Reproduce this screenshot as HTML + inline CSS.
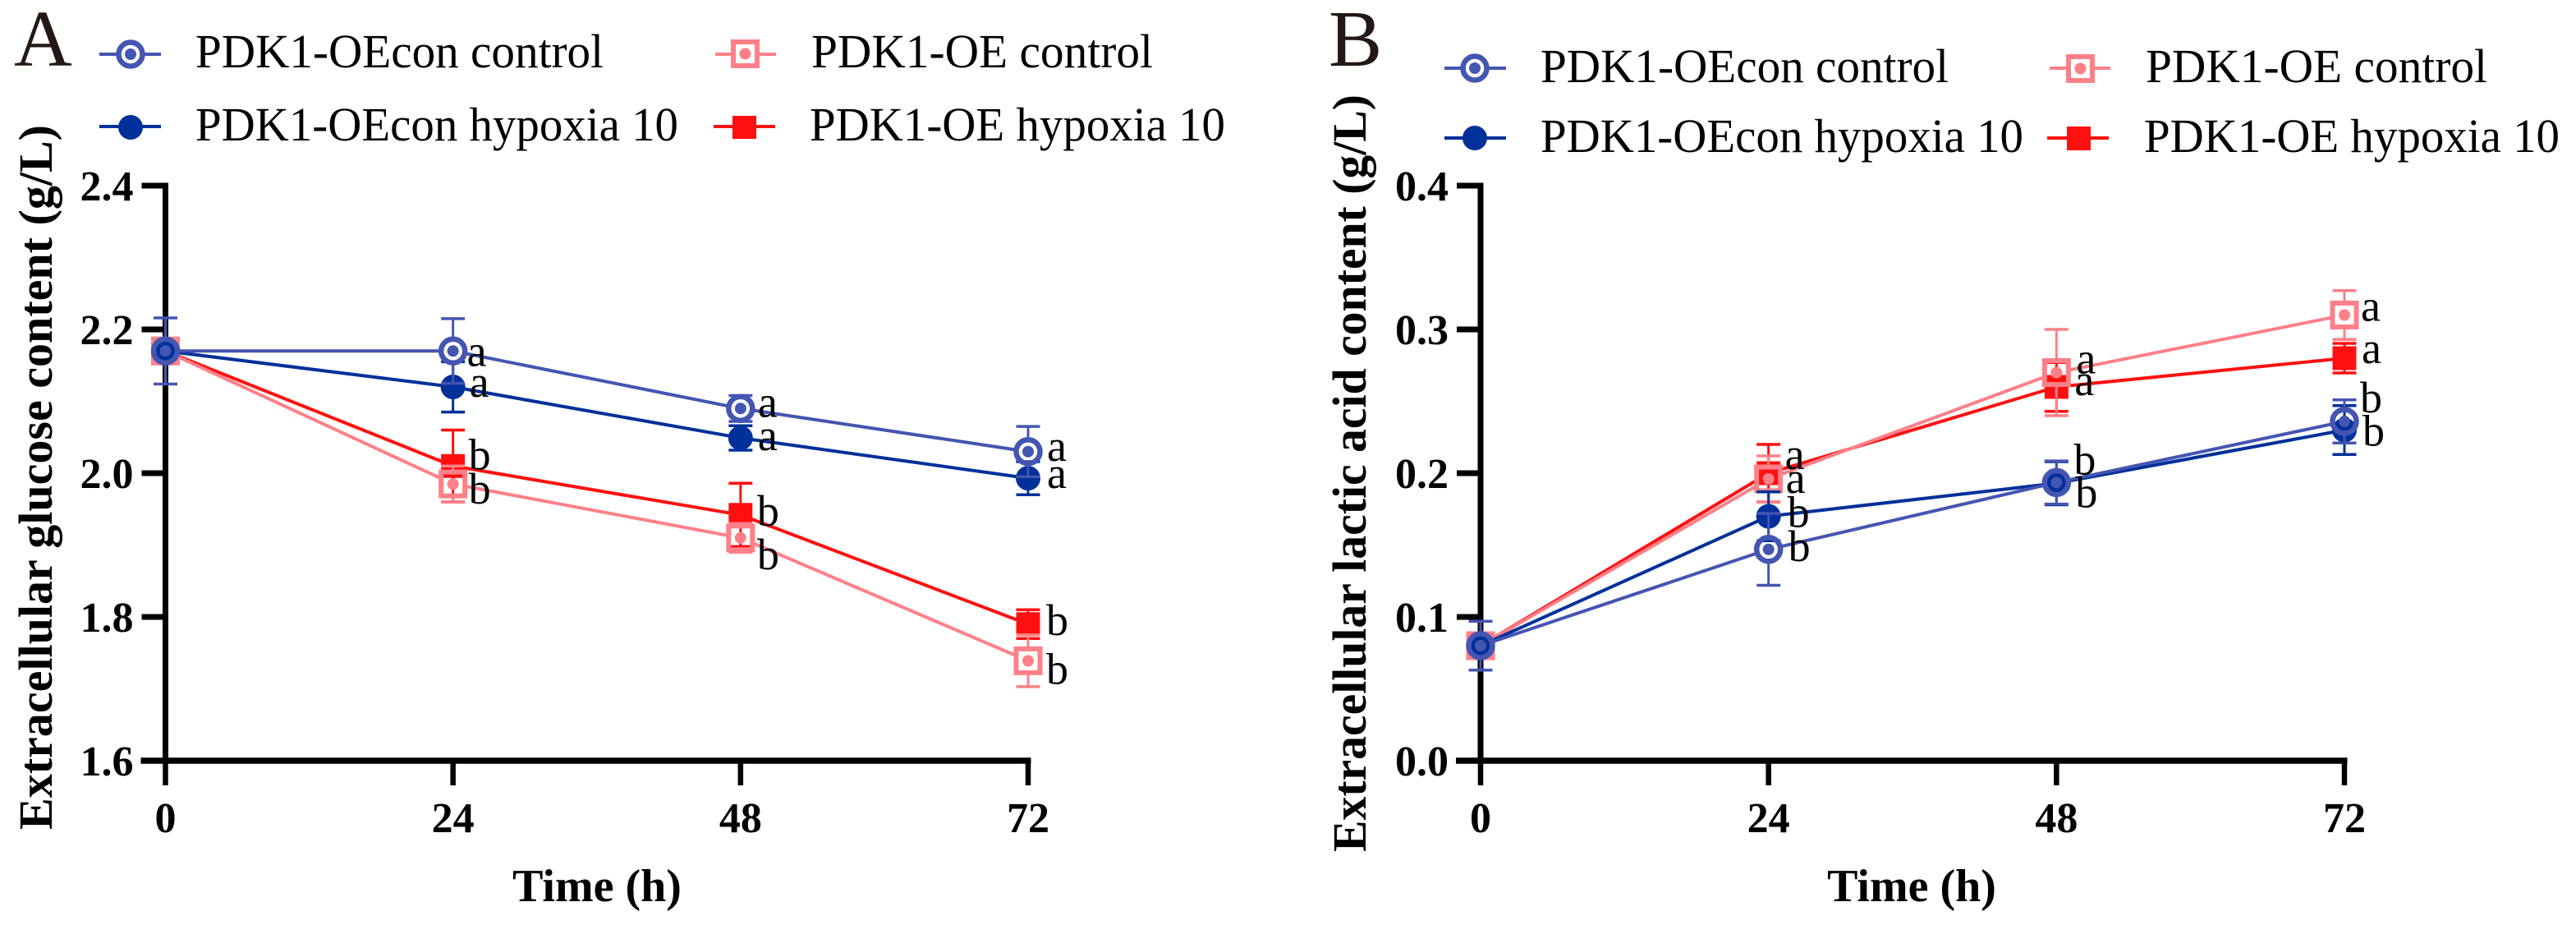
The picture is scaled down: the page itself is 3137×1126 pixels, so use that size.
<!DOCTYPE html>
<html lang="en">
<head>
<meta charset="utf-8">
<title>Extracellular glucose and lactic acid content</title>
<style>
html,body{margin:0;padding:0;background:#fff;}
body{width:3137px;height:1126px;overflow:hidden;}
svg{display:block;font-family:"Liberation Serif",serif;}
</style>
</head>
<body>
<svg id="figure" xmlns="http://www.w3.org/2000/svg" width="3137" height="1126" viewBox="0 0 3137 1126">
  <rect x="0" y="0" width="3137" height="1126" fill="#ffffff"/>

  <text x="17" y="80" font-size="98" fill="#231815">A</text>
  <text x="1618" y="80" font-size="98" fill="#231815">B</text>

  <g font-size="58" fill="#000">
    <g>
      <line x1="121" x2="196" y1="66" y2="66" stroke="#4455b2" stroke-width="4"/>
      <circle cx="159" cy="66" r="14.5" fill="#fff" stroke="#4455b2" stroke-width="6.5"/>
      <circle cx="159" cy="66" r="7" fill="#4455b2"/>
      <text x="238" y="82" textLength="497" lengthAdjust="spacingAndGlyphs">PDK1-OEcon control</text>
    </g>
    <g>
      <line x1="121" x2="196" y1="154" y2="154" stroke="#00309a" stroke-width="4"/>
      <circle cx="159" cy="155" r="15" fill="#00309a"/>
      <text x="238" y="171" textLength="588" lengthAdjust="spacingAndGlyphs">PDK1-OEcon hypoxia 10</text>
    </g>
    <g>
      <line x1="871" x2="945" y1="66" y2="66" stroke="#ff8088" stroke-width="4"/>
      <rect x="893" y="51" width="29" height="29" fill="#fff" stroke="#ff8088" stroke-width="6"/>
      <circle cx="907.5" cy="65.5" r="7" fill="#ff8088"/>
      <text x="988" y="82" textLength="416" lengthAdjust="spacingAndGlyphs">PDK1-OE control</text>
    </g>
    <g>
      <line x1="869" x2="944" y1="154" y2="154" stroke="#ff1010" stroke-width="4"/>
      <rect x="892" y="141" width="29" height="28" fill="#ff1010"/>
      <text x="986" y="171" textLength="506" lengthAdjust="spacingAndGlyphs">PDK1-OE hypoxia 10</text>
    </g>
  </g>

  <g font-size="58" fill="#000">
    <g>
      <line x1="1759" x2="1834" y1="83" y2="83" stroke="#4455b2" stroke-width="4"/>
      <circle cx="1796" cy="83" r="14.5" fill="#fff" stroke="#4455b2" stroke-width="6.5"/>
      <circle cx="1796" cy="83" r="7" fill="#4455b2"/>
      <text x="1876" y="100" textLength="497" lengthAdjust="spacingAndGlyphs">PDK1-OEcon control</text>
    </g>
    <g>
      <line x1="1759" x2="1834" y1="168" y2="168" stroke="#00309a" stroke-width="4"/>
      <circle cx="1796" cy="168" r="15" fill="#00309a"/>
      <text x="1876" y="185" textLength="588" lengthAdjust="spacingAndGlyphs">PDK1-OEcon hypoxia 10</text>
    </g>
    <g>
      <line x1="2496" x2="2570" y1="83" y2="83" stroke="#ff8088" stroke-width="4"/>
      <rect x="2519" y="69" width="29" height="29" fill="#fff" stroke="#ff8088" stroke-width="6"/>
      <circle cx="2533.5" cy="83.5" r="7" fill="#ff8088"/>
      <text x="2613" y="100" textLength="416" lengthAdjust="spacingAndGlyphs">PDK1-OE control</text>
    </g>
    <g>
      <line x1="2493" x2="2568" y1="168" y2="168" stroke="#ff1010" stroke-width="4"/>
      <rect x="2517" y="154" width="29" height="29" fill="#ff1010"/>
      <text x="2611" y="185" textLength="506" lengthAdjust="spacingAndGlyphs">PDK1-OE hypoxia 10</text>
    </g>
  </g>

  <text transform="translate(63,1010) rotate(-90)" font-size="58" font-weight="700" textLength="858" lengthAdjust="spacingAndGlyphs">Extracellular glucose content (g/L)</text>
  <text transform="translate(1663,1037) rotate(-90)" font-size="58" font-weight="700" textLength="922" lengthAdjust="spacingAndGlyphs">Extracellular lactic acid content (g/L)</text>
  <text x="727" y="1097" text-anchor="middle" font-size="56" font-weight="700">Time (h)</text>
  <text x="2328" y="1097" text-anchor="middle" font-size="56" font-weight="700">Time (h)</text>

  <g id="panel-a-plot"></g>
  <g id="panel-b-plot"></g>
</svg>

<script>
// ---- shared data ----
const timePoints = [0, 24, 48, 72];
const xTickLabels = ["0", "24", "48", "72"];

// ---- panel A: extracellular glucose (g/L) ----
const glucoseTicks = [1.6, 1.8, 2.0, 2.2, 2.4];
const glucoseTickLabels = ["1.6", "1.8", "2.0", "2.2", "2.4"];
const glucoseOEconControl = [2.17, 2.17, 2.09, 2.03];
const glucoseOEconControlErr = [0.046, 0.045, 0.018, 0.035];
const glucoseOEconHypoxia = [2.17, 2.12, 2.049, 1.993];
const glucoseOEconHypoxiaErr = [0.01, 0.035, 0.017, 0.023];
const glucoseOEControl = [2.17, 1.985, 1.91, 1.739];
const glucoseOEControlErr = [0.01, 0.025, 0.02, 0.036];
const glucoseOEHypoxia = [2.17, 2.01, 1.942, 1.79];
const glucoseOEHypoxiaErr = [0.01, 0.05, 0.044, 0.02];

// ---- panel B: extracellular lactic acid (g/L) ----
const lacticTicks = [0.0, 0.1, 0.2, 0.3, 0.4];
const lacticTickLabels = ["0.0", "0.1", "0.2", "0.3", "0.4"];
const lacticOEconControl = [0.08, 0.147, 0.1935, 0.236];
const lacticOEconControlErr = [0.017, 0.025, 0.015, 0.015];
const lacticOEconHypoxia = [0.08, 0.17, 0.193, 0.23];
const lacticOEconHypoxiaErr = [0.005, 0.017, 0.015, 0.017];
const lacticOEControl = [0.08, 0.196, 0.27, 0.31];
const lacticOEControlErr = [0.005, 0.016, 0.03, 0.017];
const lacticOEHypoxia = [0.08, 0.2, 0.26, 0.28];
const lacticOEHypoxiaErr = [0.005, 0.02, 0.017, 0.0103];

// ---- significance letters (time points 24, 48, 72 h) ----
const glucoseBlueLetters = ["a", "a", "a"];
const glucoseRedLetters = ["b", "b", "b"];
const lacticBlueLetters = ["b", "b", "b"];
const lacticRedLetters = ["a", "a", "a"];

// ---- drawing ----
const NS = "http://www.w3.org/2000/svg";
function make(tag, attrs, parent) {
  const el = document.createElementNS(NS, tag);
  for (const k in attrs) el.setAttribute(k, attrs[k]);
  parent.appendChild(el);
  return el;
}
const BLUE = "#4455b2", NAVY = "#00309a", RED = "#ff1010", PINK = "#ff8088";

function linearScale(d0, d1, r0, r1) {
  return function (v) { return r0 + (v - d0) * (r1 - r0) / (d1 - d0); };
}

function drawAxes(root, xScale, yScale, ticks, tickLabels) {
  const x0 = xScale(timePoints[0]);
  const y0 = yScale(ticks[0]);
  const yTop = yScale(ticks[ticks.length - 1]);
  const xEnd = xScale(timePoints[timePoints.length - 1]);

  const yAxis = make("line", { x1: x0, x2: x0, y1: yTop - 3.5, y2: y0, stroke: "#000", "stroke-width": 7 }, root);
  
  

  const xAxis = make("line", { x1: x0 - 30, x2: xEnd + 3.5, y1: y0, y2: y0, stroke: "#000", "stroke-width": 7.5 }, root);
  
  

  ticks.forEach(function (t, i) {
    const y = yScale(t);
    const mark = make("line", { x1: x0 - 29, x2: x0, y1: y, y2: y, stroke: "#000", "stroke-width": 7 }, root);
    
    
    const label = make("text", { x: x0 - 39, y: y + 18, "text-anchor": "end", "font-size": 52, "font-weight": 700, fill: "#000" }, root);
    label.textContent = tickLabels[i];
    
    
  });

  timePoints.forEach(function (t, i) {
    const x = xScale(t);
    const mark = make("line", { x1: x, x2: x, y1: y0, y2: y0 + 30, stroke: "#000", "stroke-width": 6.5 }, root);
    
    
    const label = make("text", { x: x, y: y0 + 87, "text-anchor": "middle", "font-size": 52, "font-weight": 700, fill: "#000" }, root);
    label.textContent = xTickLabels[i];
    
    
  });
}

function drawSeries(root, xScale, yScale, values, errors, color, shape, hollow, name) {
  const group = make("g", {}, root);
  
  
  const gap = hollow ? 17 : 0;

  for (let i = 0; i + 1 < values.length; i++) {
    const ax = xScale(timePoints[i]), ay = yScale(values[i]);
    const bx = xScale(timePoints[i + 1]), by = yScale(values[i + 1]);
    const len = Math.hypot(bx - ax, by - ay) || 1;
    const ux = (bx - ax) / len, uy = (by - ay) / len;
    const seg = make("line", {
      x1: ax + ux * gap, y1: ay + uy * gap, x2: bx - ux * gap, y2: by - uy * gap,
      stroke: color, "stroke-width": 4
    }, group);
    
    
  }

  values.forEach(function (v, i) {
    const x = xScale(timePoints[i]);
    const y = yScale(v);
    const yHigh = yScale(v + errors[i]);
    const yLow = yScale(v - errors[i]);

    [[yHigh, y - gap], [yLow, y + gap]].forEach(function (pair) {
      const stem = make("line", { x1: x, x2: x, y1: pair[0], y2: pair[1], stroke: color, "stroke-width": 3 }, group);
      
      
      const cap = make("line", { x1: x - 14.5, x2: x + 14.5, y1: pair[0], y2: pair[0], stroke: color, "stroke-width": 3.5 }, group);
      
      
    });

    if (shape === "circle" && hollow) {
      const ring = make("circle", { cx: x, cy: y, r: 14.5, fill: "none", stroke: color, "stroke-width": 6.5 }, group);
      
      
      const dot = make("circle", { cx: x, cy: y, r: 7, fill: color }, group);
      
      
    } else if (shape === "circle") {
      const disc = make("circle", { cx: x, cy: y, r: 15, fill: color }, group);
      
      
    } else if (hollow) {
      const box = make("rect", { x: x - 14.5, y: y - 14.5, width: 29, height: 29, fill: "none", stroke: color, "stroke-width": 6 }, group);
      
      
      const dot = make("circle", { cx: x, cy: y, r: 7, fill: color }, group);
      
      
    } else {
      const square = make("rect", { x: x - 14.5, y: y - 14.5, width: 29, height: 29, fill: color }, group);
      
      
    }
  });
}

// A significance letter sits beside its point, hand-nudged to avoid overlaps.
function drawLetter(root, xScale, yScale, values, letters, pointIndex, dx, dy) {
  const label = make("text", {
    x: xScale(timePoints[pointIndex]) + dx,
    y: yScale(values[pointIndex]) + dy,
    "font-size": 54, fill: "#000"
  }, root);
  label.textContent = letters[pointIndex - 1];
  
  
}

// ---- panel A ----
const rootA = document.getElementById("panel-a-plot");
const xA = linearScale(0, 72, 201.5, 1252);
const yA = linearScale(1.6, 2.4, 926, 226);
drawAxes(rootA, xA, yA, glucoseTicks, glucoseTickLabels);
drawSeries(rootA, xA, yA, glucoseOEHypoxia, glucoseOEHypoxiaErr, RED, "square", false, "series-oe-hypoxia");
drawSeries(rootA, xA, yA, glucoseOEControl, glucoseOEControlErr, PINK, "square", true, "series-oe-control");
drawSeries(rootA, xA, yA, glucoseOEconHypoxia, glucoseOEconHypoxiaErr, NAVY, "circle", false, "series-oecon-hypoxia");
drawSeries(rootA, xA, yA, glucoseOEconControl, glucoseOEconControlErr, BLUE, "circle", true, "series-oecon-control");
drawLetter(rootA, xA, yA, glucoseOEconControl, glucoseBlueLetters, 1, 17, 18);
drawLetter(rootA, xA, yA, glucoseOEconHypoxia, glucoseBlueLetters, 1, 20, 12);
drawLetter(rootA, xA, yA, glucoseOEHypoxia, glucoseRedLetters, 1, 19, 4);
drawLetter(rootA, xA, yA, glucoseOEControl, glucoseRedLetters, 1, 19, 24);
drawLetter(rootA, xA, yA, glucoseOEconControl, glucoseBlueLetters, 2, 21, 10);
drawLetter(rootA, xA, yA, glucoseOEconHypoxia, glucoseBlueLetters, 2, 21, 15);
drawLetter(rootA, xA, yA, glucoseOEHypoxia, glucoseRedLetters, 2, 20, 13);
drawLetter(rootA, xA, yA, glucoseOEControl, glucoseRedLetters, 2, 20, 38);
drawLetter(rootA, xA, yA, glucoseOEconControl, glucoseBlueLetters, 3, 23, 11);
drawLetter(rootA, xA, yA, glucoseOEconHypoxia, glucoseBlueLetters, 3, 23, 12);
drawLetter(rootA, xA, yA, glucoseOEHypoxia, glucoseRedLetters, 3, 22, 13);
drawLetter(rootA, xA, yA, glucoseOEControl, glucoseRedLetters, 3, 22, 28);

// ---- panel B ----
const rootB = document.getElementById("panel-b-plot");
const xB = linearScale(0, 72, 1803, 2855);
const yB = linearScale(0, 0.4, 926, 226);
drawAxes(rootB, xB, yB, lacticTicks, lacticTickLabels);
drawSeries(rootB, xB, yB, lacticOEHypoxia, lacticOEHypoxiaErr, RED, "square", false, "series-oe-hypoxia");
drawSeries(rootB, xB, yB, lacticOEControl, lacticOEControlErr, PINK, "square", true, "series-oe-control");
drawSeries(rootB, xB, yB, lacticOEconHypoxia, lacticOEconHypoxiaErr, NAVY, "circle", false, "series-oecon-hypoxia");
drawSeries(rootB, xB, yB, lacticOEconControl, lacticOEconControlErr, BLUE, "circle", true, "series-oecon-control");
drawLetter(rootB, xB, yB, lacticOEHypoxia, lacticRedLetters, 1, 20, -5);
drawLetter(rootB, xB, yB, lacticOEControl, lacticRedLetters, 1, 21, 17);
drawLetter(rootB, xB, yB, lacticOEconHypoxia, lacticBlueLetters, 1, 23, 13);
drawLetter(rootB, xB, yB, lacticOEconControl, lacticBlueLetters, 1, 24, 14);
drawLetter(rootB, xB, yB, lacticOEControl, lacticRedLetters, 2, 24, 1);
drawLetter(rootB, xB, yB, lacticOEHypoxia, lacticRedLetters, 2, 22, 10);
drawLetter(rootB, xB, yB, lacticOEconControl, lacticBlueLetters, 2, 21, -10);
drawLetter(rootB, xB, yB, lacticOEconHypoxia, lacticBlueLetters, 2, 23, 29);
drawLetter(rootB, xB, yB, lacticOEControl, lacticRedLetters, 3, 20, 7);
drawLetter(rootB, xB, yB, lacticOEHypoxia, lacticRedLetters, 3, 21, 6);
drawLetter(rootB, xB, yB, lacticOEconControl, lacticBlueLetters, 3, 19, -11);
drawLetter(rootB, xB, yB, lacticOEconHypoxia, lacticBlueLetters, 3, 22, 19);
</script>
</body>
</html>
